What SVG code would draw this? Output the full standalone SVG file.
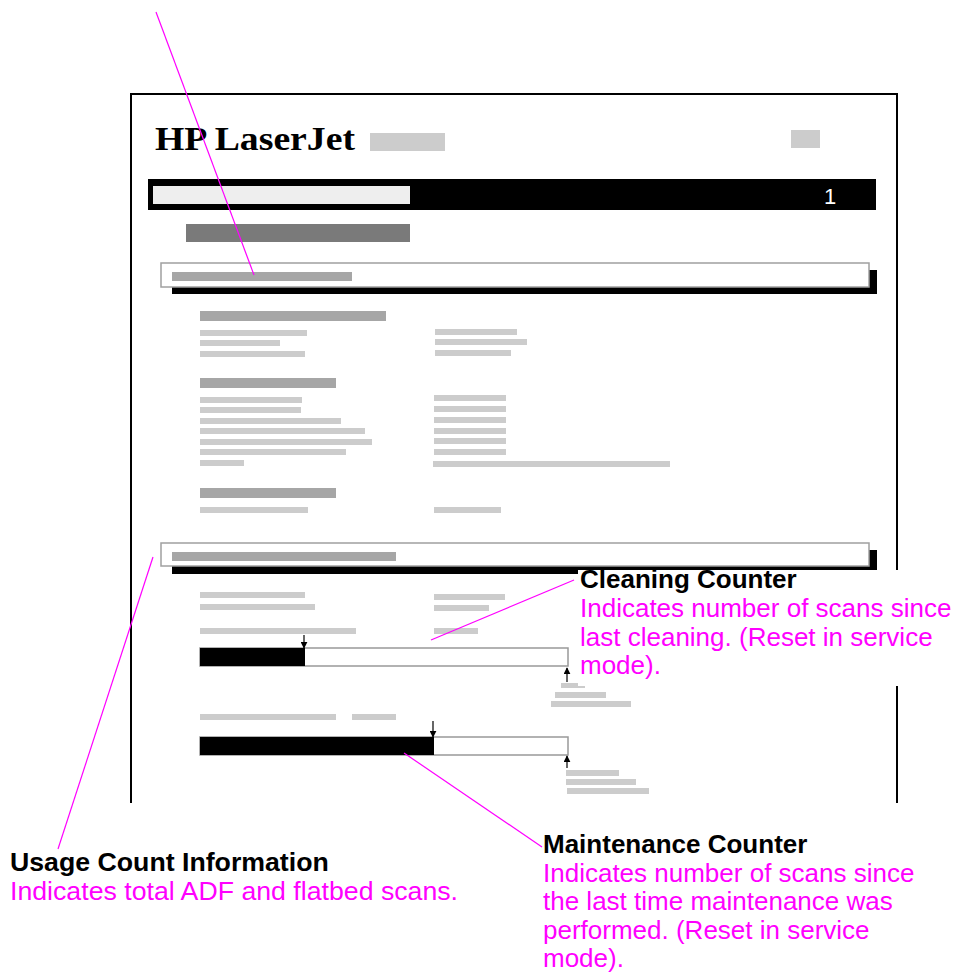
<svg xmlns="http://www.w3.org/2000/svg" width="956" height="974" viewBox="0 0 956 974">
<style>
.lg{fill:#cccccc}
.mg{fill:#a6a6a6}
.blk{fill:#000}
.box{fill:#fff;stroke:#a0a0a0;stroke-width:1.5}
.bar{fill:#fff;stroke:#999;stroke-width:1.5}
.border{stroke:#000;stroke-width:2;fill:none}
.ptr{stroke:#000;stroke-width:1.2;fill:none;marker-end:url(#ah)}
.conn{stroke:#ff00ff;stroke-width:1.2;fill:none}
.title{font-family:"Liberation Sans",Arial,sans-serif;font-weight:bold;font-size:26px;fill:#000}
.desc{font-family:"Liberation Sans",Arial,sans-serif;font-size:26px;fill:#ff00ff}
.big{font-size:26.7px}
</style>
<defs>
<marker id="ah" viewBox="0 0 10 10" refX="9" refY="5" markerWidth="7" markerHeight="7" markerUnits="userSpaceOnUse" orient="auto">
<path d="M0,0 L10,5 L0,10 z" fill="#000"/>
</marker>
</defs>
<rect width="956" height="974" fill="#fff"/>

<g id="page">
<path class="border" d="M131,803 V94 H897 V803"/>
</g>

<g id="header">
<text x="155" y="150" font-family="'Liberation Serif','Times New Roman',serif" font-weight="bold" font-size="34" textLength="200" lengthAdjust="spacingAndGlyphs">HP LaserJet</text>
<rect class="lg" x="370" y="133" width="75" height="18"/>
<rect class="lg" x="791" y="130" width="29" height="18"/>
<rect class="blk" x="148" y="179" width="728" height="31"/>
<rect x="153" y="186" width="257" height="18" fill="#eeeeee"/>
<text x="824" y="204" font-family="'Liberation Sans',Arial,sans-serif" font-size="22" fill="#fff">1</text>
<rect x="186" y="224" width="224" height="18" fill="#7a7a7a"/>
</g>

<g id="section1">
<rect class="blk" x="172" y="270" width="705" height="24"/>
<rect class="box" x="161" y="263" width="708" height="24"/>
<rect class="mg" x="172" y="272" width="180" height="9"/>
<rect class="mg" x="200" y="311" width="186" height="10"/>
<rect class="lg" x="200" y="330" width="107" height="6"/>
<rect class="lg" x="200" y="340" width="80" height="6"/>
<rect class="lg" x="200" y="351" width="105" height="6"/>
<rect class="lg" x="435" y="329" width="82" height="6"/>
<rect class="lg" x="435" y="339" width="92" height="6"/>
<rect class="lg" x="435" y="350" width="76" height="6"/>
<rect class="mg" x="200" y="378" width="136" height="10"/>
<rect class="lg" x="200" y="397" width="102" height="6"/>
<rect class="lg" x="200" y="407" width="101" height="6"/>
<rect class="lg" x="200" y="418" width="141" height="6"/>
<rect class="lg" x="200" y="428" width="165" height="6"/>
<rect class="lg" x="200" y="439" width="172" height="6"/>
<rect class="lg" x="200" y="449" width="146" height="6"/>
<rect class="lg" x="200" y="460" width="44" height="6"/>
<rect class="lg" x="434" y="395" width="72" height="6"/>
<rect class="lg" x="434" y="406" width="72" height="6"/>
<rect class="lg" x="434" y="417" width="72" height="6"/>
<rect class="lg" x="434" y="428" width="72" height="6"/>
<rect class="lg" x="434" y="438" width="72" height="6"/>
<rect class="lg" x="434" y="449" width="72" height="6"/>
<rect class="lg" x="433" y="461" width="237" height="6"/>
<rect class="mg" x="200" y="488" width="136" height="10"/>
<rect class="lg" x="200" y="507" width="108" height="6"/>
<rect class="lg" x="434" y="507" width="67" height="6"/>
</g>

<g id="section2">
<rect class="blk" x="172" y="550" width="705" height="24"/>
<rect class="box" x="161" y="543" width="708" height="23"/>
<rect class="mg" x="172" y="552" width="224" height="9"/>
<rect class="lg" x="200" y="592" width="105" height="6"/>
<rect class="lg" x="200" y="604" width="115" height="6"/>
<rect class="lg" x="200" y="628" width="156" height="6"/>
<rect class="lg" x="434" y="594" width="71" height="6"/>
<rect class="lg" x="434" y="605" width="55" height="6"/>
<rect class="lg" x="434" y="628" width="44" height="6"/>
</g>

<g id="cleaning-bar">
<rect class="bar" x="200" y="648" width="368" height="18"/>
<rect class="blk" x="200" y="648" width="105" height="18"/>
<line class="ptr" x1="304" y1="635" x2="304" y2="648"/>
<line class="ptr" x1="567" y1="682" x2="567" y2="668"/>
<rect class="lg" x="561" y="683" width="18" height="5"/>
<rect class="lg" x="561" y="686" width="24" height="2"/>
<rect class="lg" x="555" y="692" width="51" height="6"/>
<rect class="lg" x="551" y="701" width="80" height="6"/>
</g>

<g id="maintenance-bar">
<rect class="lg" x="200" y="714" width="136" height="6"/>
<rect class="lg" x="352" y="714" width="44" height="6"/>
<rect class="bar" x="200" y="737" width="368" height="18"/>
<rect class="blk" x="200" y="737" width="234" height="18"/>
<line class="ptr" x1="433" y1="721" x2="433" y2="737"/>
<line class="ptr" x1="567" y1="768" x2="567" y2="756"/>
<rect class="lg" x="566" y="770" width="53" height="6"/>
<rect class="lg" x="566" y="779" width="70" height="6"/>
<rect class="lg" x="567" y="788" width="82" height="6"/>
</g>

<g id="connectors">
<line class="conn" x1="156" y1="12" x2="254" y2="275"/>
<line class="conn" x1="431" y1="640" x2="574" y2="580"/>
<line class="conn" x1="153" y1="557" x2="58" y2="849"/>
<line class="conn" x1="404" y1="753" x2="542" y2="847"/>
</g>

<g id="cleaning-label">
<rect x="578" y="570" width="378" height="116" fill="#fff"/>
<text class="title" x="580" y="588">Cleaning Counter</text>
<text class="desc" x="580" y="617">Indicates number of scans since</text>
<text class="desc" x="580" y="645.5">last cleaning. (Reset in service</text>
<text class="desc" x="580" y="674">mode).</text>
</g>

<g id="usage-label">
<text class="title big" x="10" y="871">Usage Count Information</text>
<text class="desc big" x="10" y="900">Indicates total ADF and flatbed scans.</text>
</g>

<g id="maintenance-label">
<text class="title" x="543" y="853">Maintenance Counter</text>
<text class="desc" x="543" y="881.5">Indicates number of scans since</text>
<text class="desc" x="543" y="910">the last time maintenance was</text>
<text class="desc" x="543" y="938.5">performed. (Reset in service</text>
<text class="desc" x="543" y="967">mode).</text>
</g>
</svg>
